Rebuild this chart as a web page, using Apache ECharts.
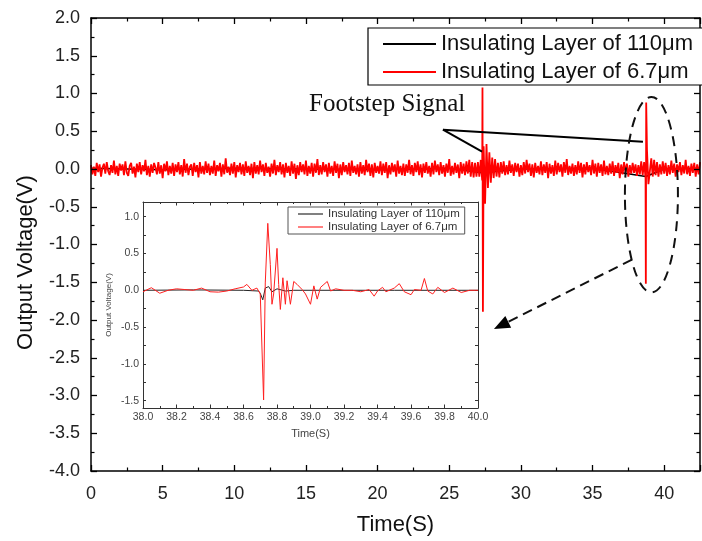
<!DOCTYPE html>
<html><head><meta charset="utf-8">
<script src="https://cdn.jsdelivr.net/npm/echarts@6/dist/echarts.min.js"></script>
<style>html,body{margin:0;padding:0;background:#fff}#c{width:702px;height:541px}</style>
</head><body><div id="c"></div>
<script>
// ---------- data ----------
const seriesNames = ['Insulating Layer of 110\u03bcm', 'Insulating Layer of 6.7\u03bcm'];
const mainNoiseStep = 0.1; // seconds between noise samples (starting at 0 s)
const mainNoise67 = [
  0.05,-0.07,0.03,-0.09,0.08,-0.04,0.06,-0.1,0.02,0.07,-0.06,0.09,-0.03,-0.08,0.05,-0.05,0.11,-0.07,0.04,-0.09,
  0.07,-0.02,0.06,-0.08,0.1,-0.05,-0.09,0.04,0.08,-0.06,0.03,-0.11,0.07,-0.04,0.09,-0.07,0.05,-0.03,0.12,-0.08,
  0.04,-0.1,0.06,-0.05,0.08,0.02,-0.07,0.09,-0.06,0.05,-0.12,0.07,-0.03,0.1,-0.08,0.04,-0.06,0.08,-0.09,0.06,
  -0.04,0.09,-0.07,0.05,-0.1,0.13,-0.05,0.07,-0.08,0.03,0.06,-0.09,0.08,-0.04,0.05,-0.11,0.09,-0.06,0.04,-0.07,
  0.1,-0.05,0.07,-0.08,0.04,-0.06,0.11,-0.09,0.05,-0.03,0.08,-0.1,0.06,-0.07,0.14,-0.05,0.03,-0.08,0.07,-0.06,
  0.09,-0.11,0.05,-0.04,0.08,-0.07,0.06,-0.09,0.1,-0.05,0.04,-0.08,0.07,-0.12,0.09,-0.06,0.05,-0.07,0.11,-0.04,
  0.06,-0.09,0.08,-0.05,0.03,-0.1,0.07,-0.06,0.12,-0.08,0.05,-0.04,0.09,-0.07,0.06,-0.11,0.08,-0.05,0.04,-0.09,
  0.1,-0.06,0.07,-0.13,0.05,-0.08,0.09,-0.04,0.06,-0.07,0.11,-0.09,0.04,-0.06,0.08,-0.1,0.07,-0.05,0.13,-0.08,
  0.05,-0.07,0.09,-0.04,0.06,-0.1,0.08,-0.06,0.04,-0.09,0.1,-0.05,0.07,-0.12,0.06,-0.08,0.09,-0.04,0.05,-0.07,
  0.08,-0.09,0.11,-0.05,0.04,-0.07,0.06,-0.1,0.09,-0.06,0.05,-0.08,0.12,-0.04,0.07,-0.09,0.06,-0.11,0.08,-0.05,
  0.04,-0.06,0.1,-0.08,0.07,-0.05,0.09,-0.12,0.05,-0.07,0.08,-0.04,0.06,-0.1,0.11,-0.06,0.04,-0.08,0.07,-0.09,
  0.06,-0.05,0.12,-0.07,0.05,-0.09,0.08,-0.04,0.1,-0.08,0.06,-0.11,0.07,-0.05,0.09,-0.06,0.04,-0.1,0.08,-0.07,
  0.11,-0.04,0.06,-0.08,0.09,-0.06,0.05,-0.1,0.07,-0.05,0.13,-0.09,0.04,-0.07,0.08,-0.05,0.06,-0.12,0.09,-0.06,
  0.07,-0.08,0.1,-0.06,0.12,-0.1,0.09,-0.11,0.08,-0.1,0.09,-0.1,0.12,-0.15,0.3,-0.46,0.33,-0.25,0.22,-0.18,
  0.15,-0.12,0.13,-0.1,0.08,-0.11,0.09,-0.06,0.1,-0.08,0.05,-0.07,0.11,-0.05,0.06,-0.09,0.08,-0.04,0.07,-0.1,
  0.05,-0.08,0.09,-0.06,0.12,-0.04,0.07,-0.09,0.06,-0.11,0.08,-0.05,0.04,-0.07,0.1,-0.08,0.06,-0.05,0.09,-0.12,
  0.07,-0.06,0.05,-0.09,0.11,-0.07,0.08,-0.04,0.06,-0.1,0.09,-0.05,0.13,-0.08,0.04,-0.06,0.07,-0.09,0.05,-0.07,
  0.1,-0.05,0.08,-0.11,0.06,-0.07,0.09,-0.04,0.05,-0.08,0.12,-0.06,0.07,-0.1,0.08,-0.05,0.06,-0.09,0.11,-0.07,
  0.04,-0.08,0.07,-0.06,0.1,-0.09,0.05,-0.05,0.08,-0.12,0.06,-0.07,0.09,-0.04,0.07,-0.1,0.05,-0.06,0.08,-0.05,
  0.06,-0.09,0.05,-0.07,0.1,-0.08,0.09,-0.12,0.25,-0.2,-0.18,0.14,-0.1,0.12,-0.08,0.09,-0.1,0.06,-0.07,0.1,
  -0.06,0.08,-0.09,0.05,-0.07,0.11,-0.05,0.07,-0.1,0.06,-0.04,0.09,-0.08,0.05,-0.06,0.12,-0.07,0.04,-0.09,0.07,
  -0.05,0.08,-0.1,0.06,-0.07,0.09
];
const mainSpike1 = [[27.32,1.08],[27.35,-1.89]];
const mainSpike2 = [[38.72,-1.52],[38.745,0.88]];
const mainBlack = [[0,0.01],[5,-0.01],[10,0.01],[15,0],[20,-0.01],[25,0.01],[27.3,-0.05],[30,0],[35,0.01],[38.72,-0.1],[40,0],[42.5,0.01]];

const insetRed = [
  [38.0,-0.02],[38.05,0.035],[38.1,-0.04],[38.15,0],[38.2,0.02],[38.25,0.01],[38.3,0],[38.35,0.03],
  [38.4,-0.02],[38.45,-0.025],[38.5,-0.01],[38.55,0.02],[38.6,0.045],[38.62,0.08],[38.65,0],
  [38.68,0.03],[38.7,-0.05],[38.72,-1.49],[38.73,0.1],[38.745,0.91],[38.76,0.35],[38.77,-0.19],
  [38.78,-0.05],[38.8,0.57],[38.81,0.08],[38.82,-0.26],[38.835,0.17],[38.85,-0.19],[38.86,0.13],
  [38.88,-0.19],[38.9,0.12],[38.92,0.08],[38.95,0.01],[38.97,-0.05],[39.0,-0.19],[39.02,0.06],
  [39.04,-0.12],[39.06,0.04],[39.08,0.08],[39.1,0.12],[39.12,-0.01],[39.15,0.02],[39.2,0],
  [39.25,0],[39.3,-0.02],[39.35,0.01],[39.38,-0.08],[39.4,-0.01],[39.43,0.04],[39.45,-0.02],
  [39.5,0.03],[39.53,0.09],[39.56,-0.02],[39.6,-0.06],[39.62,0.01],[39.66,0],[39.68,0.16],
  [39.7,-0.01],[39.73,-0.05],[39.76,0.04],[39.8,-0.03],[39.85,0.03],[39.9,-0.03],[39.95,0],[40.0,0]
];
const insetBlack = [
  [38.0,0],[38.3,0.005],[38.6,0],[38.69,-0.01],[38.7,-0.04],[38.715,-0.13],[38.73,0.03],
  [38.75,0.05],[38.77,-0.02],[38.8,0.02],[38.85,-0.01],[38.9,0],[39.5,0],[40.0,0]
];
const insetYLabels = [-1.5,-1.0,-0.5,0.0,0.5,1.0];
const insetYTicks = [-1.5,-1.25,-1.0,-0.75,-0.5,-0.25,0.0,0.25,0.5,0.75,1.0];

// ---------- build ----------
const mainRed = mainNoise67.map((v,i)=>[+(i*mainNoiseStep).toFixed(2), v])
  .concat(mainSpike1, mainSpike2).sort((a,b)=>a[0]-b[0]);

const SANS = 'Liberation Sans, Arial, sans-serif';
const SERIF = 'Liberation Serif, Times New Roman, serif';

function mainAxisCommon(extra){
  return Object.assign({
    type:'value', gridIndex:0, z:4,
    axisLine:{show:true, onZero:false, lineStyle:{color:'#000', width:1.5}},
    axisTick:{show:true, inside:true, length:6, lineStyle:{color:'#000', width:1.3}},
    minorTick:{show:true, splitNumber:2, length:3.5, lineStyle:{color:'#000', width:1.2}},
    splitLine:{show:false}
  }, extra);
}
function insetAxisCommon(extra){
  return Object.assign({
    type:'value', gridIndex:1, z:6,
    axisLine:{show:true, onZero:false, lineStyle:{color:'#333', width:1}},
    axisTick:{show:true, inside:true, length:3.5, lineStyle:{color:'#333', width:1}},
    minorTick:{show:true, splitNumber:2, length:2, lineStyle:{color:'#333', width:1}},
    splitLine:{show:false}
  }, extra);
}

const chart = echarts.init(document.getElementById('c'), null, {renderer:'canvas'});
const option = {
  backgroundColor:'#fff',
  animation:false,
  grid:[
    {left:91, right:2, top:18, bottom:69},
    {left:143, right:224, top:202, bottom:133, show:true, backgroundColor:'#fff', borderWidth:0, z:1}
  ],
  legend:[
    {data:seriesNames, left:368, top:28, orient:'vertical', icon:'rect', itemWidth:53, itemHeight:2, itemGap:6,
     padding:[5,12,2,15], borderColor:'#000', borderWidth:1.2, backgroundColor:'#fff',
     textStyle:{fontSize:22, lineHeight:22, color:'#111', fontFamily:SANS}, z:10},
    {data:seriesNames, left:288, top:207, orient:'vertical', icon:'rect', itemWidth:25, itemHeight:1, itemGap:1,
     padding:[1,5,1,10], borderColor:'#555', borderWidth:1, backgroundColor:'#fff',
     textStyle:{fontSize:11.5, lineHeight:12, color:'#333', fontFamily:SANS}, z:10}
  ],
  xAxis:[
    mainAxisCommon({position:'bottom', min:0, max:42.5, interval:5,
      axisLabel:{fontSize:18, color:'#222', fontFamily:SANS, margin:14, showMaxLabel:false,
        formatter:v=> (v%5===0? String(v):'')},
      name:'Time(S)', nameLocation:'middle', nameGap:43,
      nameTextStyle:{fontSize:22, color:'#111', fontFamily:SANS}}),
    mainAxisCommon({position:'top', min:0, max:42.5, interval:5, axisLabel:{show:false}}),
    insetAxisCommon({position:'bottom', min:38, max:40, interval:0.2,
      axisLabel:{fontSize:10.5, color:'#444', fontFamily:SANS, margin:4, formatter:v=>v.toFixed(1)},
      name:'Time(S)', nameLocation:'middle', nameGap:20,
      nameTextStyle:{fontSize:11, color:'#444', fontFamily:SANS}}),
    insetAxisCommon({position:'top', min:38, max:40, interval:0.2, axisLabel:{show:false}})
  ],
  yAxis:[
    mainAxisCommon({position:'left', min:-4, max:2, interval:0.5,
      axisLabel:{fontSize:18, color:'#222', fontFamily:SANS, margin:11, formatter:v=>v.toFixed(1)},
      name:'Output Voltage(V)', nameLocation:'middle', nameGap:54,
      nameTextStyle:{fontSize:22, color:'#111', fontFamily:SANS, padding:[0,36,0,0]}}),
    mainAxisCommon({position:'right', min:-4, max:2, interval:0.5, axisLabel:{show:false}}),
    insetAxisCommon({position:'left', min:-1.6, max:1.2,
      axisTick:{show:true, inside:true, length:3, customValues:insetYTicks, lineStyle:{color:'#333'}},
      minorTick:{show:false},
      axisLabel:{fontSize:10.5, color:'#444', fontFamily:SANS, margin:4, customValues:insetYLabels,
        formatter:v=>v.toFixed(1)},
      name:'Output Voltage(V)', nameLocation:'middle', nameGap:30,
      nameTextStyle:{fontSize:8, color:'#444', fontFamily:SANS}}),
    insetAxisCommon({position:'right', min:-1.6, max:1.2,
      axisTick:{show:true, inside:true, length:3, customValues:insetYTicks, lineStyle:{color:'#333'}},
      minorTick:{show:false},
      axisLabel:{show:false}})
  ],
  series:[
    {name:seriesNames[0], type:'line', xAxisIndex:0, yAxisIndex:0, data:mainBlack, symbol:'none',
     lineStyle:{color:'#000', width:1.5}, itemStyle:{color:'#000'}, z:2},
    {name:seriesNames[1], type:'line', xAxisIndex:0, yAxisIndex:0, data:mainRed, symbol:'none',
     lineStyle:{color:'#ff0000', width:1.8}, itemStyle:{color:'#ff0000'}, z:3},
    {name:seriesNames[0], type:'line', xAxisIndex:2, yAxisIndex:2, data:insetBlack, symbol:'none',
     lineStyle:{color:'#222', width:1}, itemStyle:{color:'#222'}, z:7},
    {name:seriesNames[1], type:'line', xAxisIndex:2, yAxisIndex:2, data:insetRed, symbol:'none',
     lineStyle:{color:'#ff2020', width:1}, itemStyle:{color:'#ff2020'}, z:8}
  ]
};
chart.setOption(option);

// ---------- annotations (anchored in data coordinates of the main grid) ----------
const ann = {
  textAt:[20.66, 0.82],
  junction:[24.56, 0.52], toSpike1:[27.29, 0.23], toSpike2:[38.52, 0.36],
  ellipseCenter:[39.11,-0.34], ellipseEdgeX:[40.96,-0.34], ellipseEdgeY:[39.11, 0.955],
  arrowFrom:[37.75,-1.2], arrowTo:[28.12,-2.12]
};
const P = p => chart.convertToPixel({gridIndex:0}, p);
const tp = P(ann.textAt), j = P(ann.junction), s1 = P(ann.toSpike1), s2 = P(ann.toSpike2);
const ec = P(ann.ellipseCenter), ex = P(ann.ellipseEdgeX), ey = P(ann.ellipseEdgeY);
const af = P(ann.arrowFrom), at = P(ann.arrowTo);
const dx = at[0]-af[0], dy = at[1]-af[1], len = Math.hypot(dx,dy);
const ux = dx/len, uy = dy/len, nx = -uy, ny = ux;
const L = 16, W = 13;
const base = [at[0]-ux*L, at[1]-uy*L];
chart.setOption({graphic:[
  {type:'text', left:tp[0]-78, top:tp[1]-15, z:20,
   style:{text:'Footstep Signal', font:'25px '+SERIF, fill:'#111'}},
  {type:'line', z:20, shape:{x1:j[0], y1:j[1], x2:s1[0], y2:s1[1]}, style:{stroke:'#000', lineWidth:2}},
  {type:'line', z:20, shape:{x1:j[0], y1:j[1], x2:s2[0], y2:s2[1]}, style:{stroke:'#000', lineWidth:2}},
  {type:'ellipse', z:20, shape:{cx:ec[0], cy:ec[1], rx:Math.abs(ex[0]-ec[0]), ry:Math.abs(ey[1]-ec[1])},
   style:{stroke:'#111', fill:null, lineWidth:2, lineDash:[10,7]}},
  {type:'line', z:20, shape:{x1:af[0], y1:af[1], x2:base[0], y2:base[1]},
   style:{stroke:'#111', lineWidth:2, lineDash:[10,6]}},
  {type:'polygon', z:20, shape:{points:[at, [base[0]+nx*W/2, base[1]+ny*W/2], [base[0]-nx*W/2, base[1]-ny*W/2]]},
   style:{fill:'#000'}}
]});
</script></body></html>
